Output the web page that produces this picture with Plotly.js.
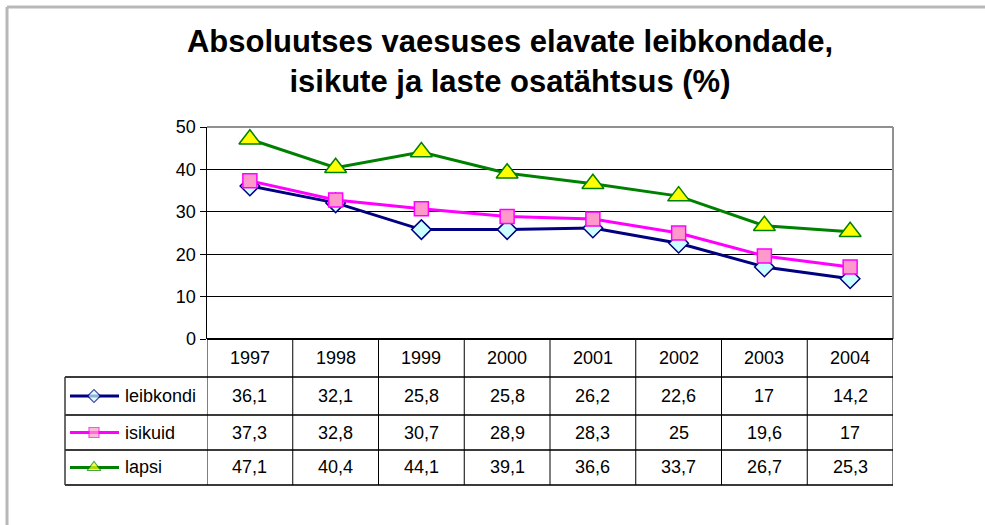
<!DOCTYPE html>
<html>
<head>
<meta charset="utf-8">
<script src="https://cdn.plot.ly/plotly-3.0.1.min.js"></script>
<style>
  body { margin: 0; background: #fff; }
  #chart { width: 985px; height: 525px; }
</style>
</head>
<body>
<div id="chart"></div>
<script>
// data
const years = ['1997', '1998', '1999', '2000', '2001', '2002', '2003', '2004'];
const leibkondi = [36.1, 32.1, 25.8, 25.8, 26.2, 22.6, 17, 14.2];
const isikuid = [37.3, 32.8, 30.7, 28.9, 28.3, 25, 19.6, 17];
const lapsi = [47.1, 40.4, 44.1, 39.1, 36.6, 33.7, 26.7, 25.3];
const seriesNames = ['leibkondi', 'isikuid', 'lapsi'];

const W = 985, H = 525;
// pixel -> paper helpers
const px = x => x / W;
const py = y => 1 - y / H;

// plot area box (pixels)
const L = 207, R = 893, T = 127, B = 339;
// table rows (pixels)
const headerMid = 358;
const rowLines = [377, 415, 450, 485];
const rowMids = [396, 432.5, 467.5];
const tableLeft = 65;

const styles = [
    {line: '#000080', symbol: 'diamond', fill: '#CCFFFF', edge: '#000080', size: 15, keySize: 10},
    {line: '#FF00FF', symbol: 'square', fill: '#FF99CC', edge: '#FF00FF', size: 14, keySize: 10},
    {line: '#008000', symbol: 'triangle-up', fill: '#FFFF00', edge: '#008000', size: 19, keySize: 12}
];
const values = [leibkondi, isikuid, lapsi];

const fmt = v => String(v).replace('.', ',');

let data = [];
values.forEach((vals, i) => {
    const s = styles[i];
    data.push({
        x: years,
        y: vals,
        type: 'scatter',
        mode: 'lines+markers',
        name: seriesNames[i],
        line: {color: s.line, width: 3},
        marker: {symbol: s.symbol, size: s.size, color: s.fill, line: {color: s.edge, width: 1.5}},
        cliponaxis: false,
        hoverinfo: 'skip'
    });
});

// legend keys inside the data table (full-page helper axes in pixel units)
values.forEach((vals, i) => {
    const s = styles[i];
    data.push({
        x: [70, 94, 119],
        y: [rowMids[i], rowMids[i], rowMids[i]],
        xaxis: 'x2',
        yaxis: 'y2',
        type: 'scatter',
        mode: 'lines+markers',
        line: {color: s.line, width: 3},
        marker: {symbol: s.symbol, size: [0, s.keySize, 0], color: s.fill, line: {color: s.edge, width: 1.2}},
        hoverinfo: 'skip',
        showlegend: false
    });
});

let shapes = [];
const hline = (x0, x1, y, color, width, xref) => shapes.push({
    type: 'line', xref: xref || 'paper', yref: 'paper',
    x0: x0, x1: x1, y0: py(y), y1: py(y), line: {color: color, width: width}
});
const vline = (x, y0, y1, color, width, xref) => shapes.push({
    type: 'line', xref: xref || 'paper', yref: 'paper',
    x0: x, x1: x, y0: py(y0), y1: py(y1), line: {color: color, width: width}
});

// outer chart border (top + left visible)
hline(px(7), 1, 7, '#b8b8b8', 3);
vline(px(7), 7, H, '#b8b8b8', 3);

// plot area border top/right
hline(px(L), px(R), T, '#909090', 2);
vline(px(R), T, B, '#909090', 2);

// table grid
hline(px(L), px(R), B, '#000000', 2);
rowLines.forEach(y => hline(px(tableLeft), px(R), y, '#3a3a3a', 2));
vline(px(tableLeft), rowLines[0], rowLines[rowLines.length - 1], '#3a3a3a', 1.5);
for (let i = 0; i <= years.length; i++) {
    vline(i - 0.5, B, rowLines[rowLines.length - 1], '#000000', 1, 'x');
}

let annotations = [];
const cellFont = {family: 'Liberation Sans, Arial, sans-serif', size: 18, color: '#000'};
years.forEach((yr, j) => {
    annotations.push({
        x: j, xref: 'x', y: py(headerMid), yref: 'paper',
        text: yr, showarrow: false, font: cellFont, xanchor: 'center', yanchor: 'middle'
    });
    values.forEach((vals, i) => {
        annotations.push({
            x: j, xref: 'x', y: py(rowMids[i]), yref: 'paper',
            text: fmt(vals[j]), showarrow: false, font: cellFont, xanchor: 'center', yanchor: 'middle'
        });
    });
});
seriesNames.forEach((nm, i) => {
    annotations.push({
        x: px(123), xref: 'paper', y: py(rowMids[i]), yref: 'paper',
        text: nm, showarrow: false, font: cellFont, xanchor: 'left', yanchor: 'middle'
    });
});

let layout = {
    width: W,
    height: H,
    margin: {l: 0, r: 0, t: 0, b: 0},
    paper_bgcolor: '#fff',
    plot_bgcolor: 'rgba(0,0,0,0)',
    showlegend: false,
    title: {
        text: '<b>Absoluutses vaesuses elavate leibkondade,<br>isikute ja laste osatähtsus (%)</b>',
        font: {family: 'Liberation Sans, Arial, sans-serif', size: 31, color: '#000'},
        x: px(510), xanchor: 'center',
        y: py(52), yanchor: 'top'
    },
    xaxis: {
        domain: [px(L), px(R)],
        type: 'category',
        categoryarray: years,
        range: [-0.5, years.length - 0.5],
        showticklabels: false,
        showgrid: false,
        zeroline: false,
        showline: false,
        ticks: '',
        fixedrange: true
    },
    yaxis: {
        domain: [py(B), py(T)],
        range: [0, 50],
        dtick: 10,
        showgrid: true,
        gridcolor: '#000',
        gridwidth: 1,
        zeroline: false,
        showline: true,
        linecolor: '#000',
        linewidth: 1.5,
        ticks: 'outside',
        ticklen: 6,
        tickcolor: '#000',
        tickfont: {family: 'Liberation Sans, Arial, sans-serif', size: 18, color: '#000'},
        fixedrange: true
    },
    xaxis2: {
        domain: [0, 1], range: [0, W], anchor: 'y2',
        visible: false, fixedrange: true
    },
    yaxis2: {
        domain: [0, 1], range: [H, 0], anchor: 'x2',
        visible: false, fixedrange: true
    },
    shapes: shapes,
    annotations: annotations
};

Plotly.newPlot('chart', data, layout, {displayModeBar: false, staticPlot: true});
</script>
</body>
</html>
